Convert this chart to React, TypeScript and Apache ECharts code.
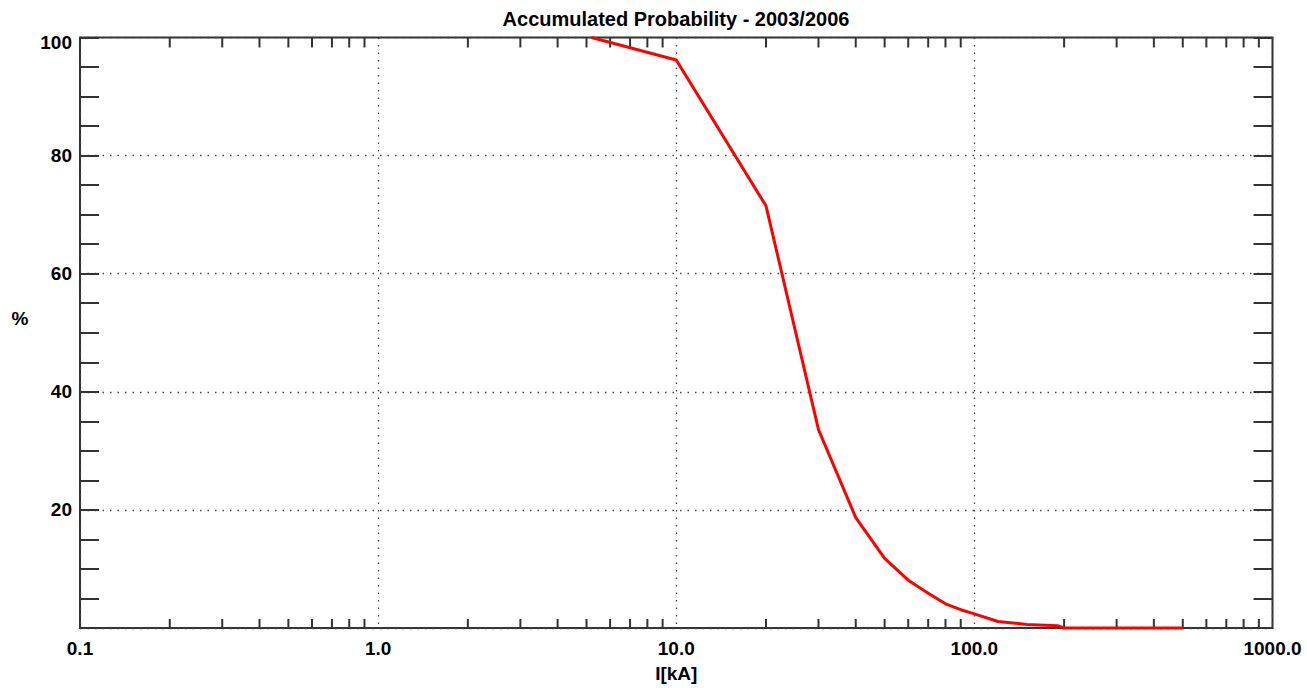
import React, { useEffect, useRef } from "react";
import * as echarts from "echarts";

const titleText = "Accumulated Probability - 2003/2006";
const xName = "I[kA]";
const yName = "%";

// Current (kA) and accumulated probability (%)
const currentKA = [5.2, 10, 20, 30, 40, 50, 60, 70, 80, 90, 100, 120, 150, 190, 200, 500];
const probability = [100, 96.2, 71.5, 33.6, 18.7, 11.8, 8.1, 5.9, 4.1, 3.1, 2.4, 1.1, 0.6, 0.4, 0, 0];

// Minor tick positions on the logarithmic current axis
const xMinorTicks = [
  0.2, 0.3, 0.4, 0.5, 0.6, 0.7, 0.8, 0.9,
  2, 3, 4, 5, 6, 7, 8, 9,
  20, 30, 40, 50, 60, 70, 80, 90,
  200, 300, 400, 500, 600, 700, 800, 900,
];

const FONT = "'Liberation Sans', Arial, sans-serif";
const AXIS_COLOR = "#333";

export default function App() {
  const ref = useRef<HTMLDivElement>(null);

  useEffect(() => {
    if (!ref.current) return;
    const chart = echarts.init(ref.current, null, { renderer: "svg" });

    const tickStyle = { color: AXIS_COLOR, width: 2 };
    const gridLine = {
      show: true,
      lineStyle: { color: "#444", width: 1.3, type: [1.5, 6] as any },
    };
    const labelFont = { fontFamily: FONT, fontWeight: "bold" as const, fontSize: 19, color: "#000" };

    const yCommon = {
      type: "value" as const,
      min: 0,
      max: 100,
      interval: 20,
      axisLine: { show: false },
      axisTick: { show: true, inside: true, length: 19, lineStyle: tickStyle },
      minorTick: { show: true, splitNumber: 4, length: 19, lineStyle: tickStyle },
    };

    chart.setOption({
      animation: false,
      backgroundColor: "#fff",
      title: {
        text: titleText,
        left: 676,
        top: 9,
        textAlign: "center",
        padding: 0,
        textStyle: { fontFamily: FONT, fontWeight: "bold", fontSize: 20, color: "#000" },
      },
      graphic: [
        {
          type: "text",
          x: 20,
          y: 318,
          style: {
            text: yName,
            fontFamily: FONT,
            fontWeight: "bold",
            fontSize: 19,
            fill: "#000",
            textAlign: "center",
            textVerticalAlign: "middle",
          },
        },
      ],
      grid: {
        left: 80,
        right: 34.5,
        top: 37.5,
        bottom: 54.7,
        show: true,
        borderColor: AXIS_COLOR,
        borderWidth: 2,
        backgroundColor: "#fff",
      },
      xAxis: {
        type: "log",
        logBase: 10,
        min: 0.1,
        max: 1000,
        name: xName,
        nameLocation: "middle",
        nameGap: 36,
        nameTextStyle: labelFont,
        axisLine: { show: false },
        axisTick: { show: false },
        axisLabel: {
          margin: 11,
          ...labelFont,
          formatter: (v: number) => Number(v).toFixed(1),
        },
        splitLine: gridLine,
      },
      yAxis: [
        {
          ...yCommon,
          position: "left",
          axisLabel: {
            margin: 8,
            ...labelFont,
            formatter: (v: number) => (v === 0 ? "" : v === 100 ? "{t|100}" : String(v)),
            rich: { t: { ...labelFont, padding: [10, 0, 0, 0] } },
          },
          splitLine: gridLine,
        },
        {
          ...yCommon,
          position: "right",
          axisLabel: { show: false },
          splitLine: { show: false },
        },
      ],
      series: [
        {
          type: "custom",
          silent: true,
          clip: false,
          xAxisIndex: 0,
          yAxisIndex: 0,
          data: xMinorTicks.map((v) => [v, 0]),
          encode: { x: 0, y: 1 },
          renderItem: (_params: any, api: any) => {
            const v = api.value(0);
            const b = api.coord([v, 0]);
            const t = api.coord([v, 100]);
            const style = { stroke: AXIS_COLOR, lineWidth: 2 };
            return {
              type: "group",
              children: [
                { type: "line", shape: { x1: b[0], y1: b[1], x2: b[0], y2: b[1] - 9 }, style },
                { type: "line", shape: { x1: t[0], y1: t[1], x2: t[0], y2: t[1] + 10 }, style },
              ],
            };
          },
          z: 3,
        },
        {
          type: "line",
          data: currentKA.map((x, i) => [x, probability[i]]),
          showSymbol: false,
          symbol: "none",
          lineStyle: { color: "#ff0000", width: 3 },
          clip: false,
          z: 5,
        },
      ],
    });

    return () => chart.dispose();
  }, []);

  return (
    <div
      ref={ref}
      style={{ position: "fixed", left: 0, top: 0, width: 1307, height: 688, background: "#fff" }}
    />
  );
}
